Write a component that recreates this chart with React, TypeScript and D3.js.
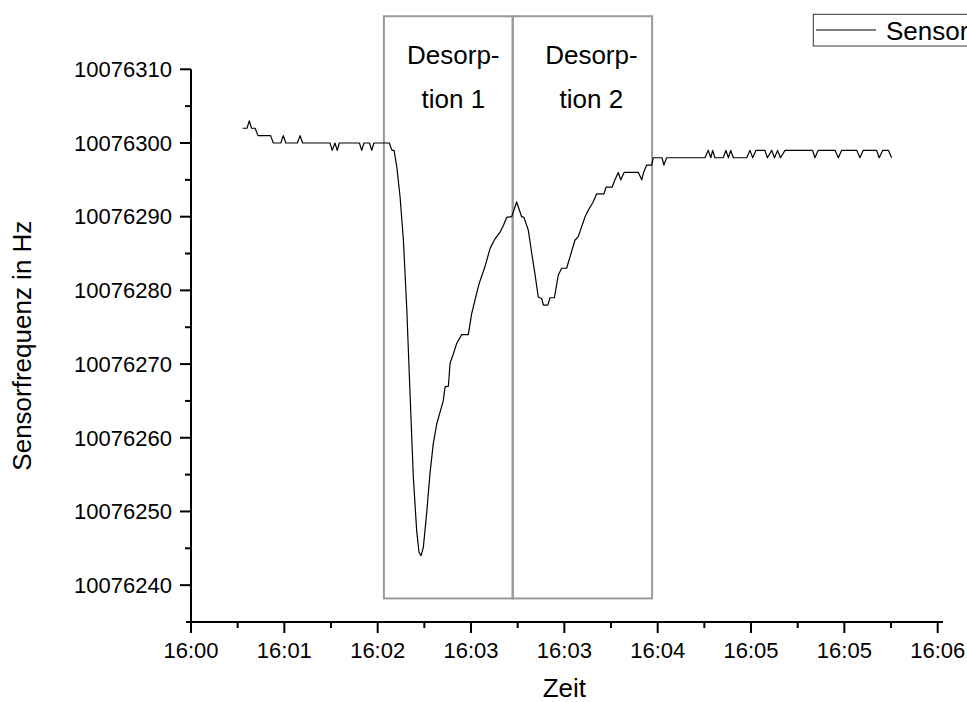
import React from "react";
import * as d3 from "d3";

// time in seconds after the first tick, frequency in Hz
const timeSec = [
  24.9, 27.0, 28.1, 29.2, 30.9, 32.3, 38.4, 39.7, 43.3, 44.5, 45.7, 51.3, 52.6, 53.8,
  67.0, 68.1, 69.4, 70.5, 71.5, 81.2, 82.3, 83.4, 86.1, 87.1, 88.2, 95.6, 96.9, 97.9,
  99.2, 100.8, 102.4, 104.0, 105.6, 107.2, 108.8, 109.9, 110.9, 112.0, 113.6, 115.2,
  116.8, 118.5, 121.6, 122.5, 124.1, 124.9, 126.5, 128.1, 130.5, 133.7, 135.3, 137.7,
  139.0, 141.7, 144.2, 146.6, 149.0, 150.6, 152.2, 154.6, 157.0, 159.4, 160.5, 162.6,
  164.3, 165.9, 167.4, 169.1, 169.9, 172.0, 173.1, 175.2, 177.1, 178.7, 181.1, 185.1,
  186.7, 190.0, 191.6, 193.7, 195.6, 199.1, 200.1, 203.0, 204.4, 206.0, 207.2, 208.8,
  215.7, 217.3, 218.2, 219.7, 222.1, 222.9, 227.1, 228.0, 229.3, 247.8, 249.4, 250.6,
  251.5, 252.6, 256.6, 257.9, 259.1, 260.2, 261.5, 267.9, 269.5, 270.8, 272.4, 276.7,
  277.9, 280.0, 281.3, 282.8, 284.2, 286.4, 299.7, 300.8, 302.4, 310.5, 312.1, 313.7,
  321.0, 322.5, 324.1, 330.6, 331.8, 333.5, 336.2, 337.8,
];
const freqHz = [
  10076302, 10076302, 10076303, 10076302, 10076302, 10076301, 10076301, 10076300, 10076300, 10076301, 10076300, 10076300, 10076301, 10076300,
  10076300, 10076299, 10076300, 10076299, 10076300, 10076300, 10076299, 10076300, 10076300, 10076299, 10076300, 10076300, 10076299, 10076299,
  10076296.8, 10076292.7, 10076286.8, 10076277.7, 10076266.0, 10076254.6, 10076247.4, 10076244.5, 10076244.0, 10076245.1, 10076249.7, 10076255.1,
  10076259.2, 10076261.9, 10076265.0, 10076266.9, 10076267.0, 10076270.1, 10076271.4, 10076272.8, 10076274.0, 10076274.0, 10076276.8, 10076279.6,
  10076281.0, 10076283.2, 10076285.7, 10076287.0, 10076287.9, 10076288.8, 10076289.9, 10076290.0, 10076292.0, 10076290.0, 10076289.9, 10076288.2,
  10076285.0, 10076282.1, 10076279.1, 10076278.9, 10076278.0, 10076278.0, 10076279.0, 10076279.0, 10076282.1, 10076283.0, 10076283.0, 10076286.8,
  10076287.3, 10076290.0, 10076290.9, 10076291.9, 10076293.1, 10076293.1, 10076294.0, 10076294.0, 10076295, 10076296, 10076295, 10076296,
  10076296, 10076295, 10076296, 10076297, 10076297, 10076298, 10076298, 10076297, 10076298, 10076298, 10076299, 10076298,
  10076299, 10076298, 10076298, 10076299, 10076298, 10076299, 10076298, 10076298, 10076299, 10076298, 10076299, 10076299,
  10076298, 10076299, 10076298, 10076299, 10076298, 10076299, 10076299, 10076298, 10076299, 10076299, 10076298, 10076299,
  10076299, 10076298, 10076299, 10076299, 10076298, 10076299, 10076299, 10076298,
];

const xTickValues = [0, 45, 90, 135, 180, 225, 270, 315, 360];
const xTickLabels = ["16:00", "16:01", "16:02", "16:03", "16:03", "16:04", "16:05", "16:05", "16:06"];
const yTickValues = [10076240, 10076250, 10076260, 10076270, 10076280, 10076290, 10076300, 10076310];

// annotation regions (time start, time end) and their vertical extent
const regionStart = [93.0, 155.1];
const regionEnd = [155.1, 222.3];
const regionLabel1 = ["Desorp-", "Desorp-"];
const regionLabel2 = ["tion 1", "tion 2"];
const regionFreqRange = [10076238.2, 10076317.2];

const legendLabel = "Sensor";

const FONT = "'Liberation Sans', Arial, Helvetica, sans-serif";

export default function App() {
  const W = 967, H = 702;
  const x = d3.scaleLinear().domain([0, 360]).range([191, 937.7]);
  const y = d3.scaleLinear().domain([10076235, 10076310]).range([622, 69.3]);

  const pts = timeSec.map((t, i) => [t, freqHz[i]] as [number, number]);
  const line = d3.line<[number, number]>().x(d => x(d[0])).y(d => y(d[1]));

  const xMinor = xTickValues.slice(0, -1).map((v, i) => (v + xTickValues[i + 1]) / 2);
  const yMinor = yTickValues.slice(0, -1).map((v, i) => (v + yTickValues[i + 1]) / 2);

  const x0 = x.range()[0];
  const y0 = y.range()[0];
  const fmt = d3.format("d");

  return (
    <svg width={W} height={H} style={{ position: "absolute", left: 0, top: 0, background: "#fff" }} fontFamily={FONT}>
      <rect x={0} y={0} width={W} height={H} fill="#fff" />
      {/* annotation boxes */}
      {regionStart.map((s, i) => (
        <rect key={"r" + i} x={x(s)} y={y(regionFreqRange[1])} width={x(regionEnd[i]) - x(s)}
          height={y(regionFreqRange[0]) - y(regionFreqRange[1])} fill="none" stroke="#9a9a9a" strokeWidth={2} />
      ))}
      {regionStart.map((s, i) => {
        const cx = (x(s) + x(regionEnd[i])) / 2 + (i === 0 ? 5 : 9);
        return (
          <g key={"t" + i} fontSize={26} textAnchor="middle" fill="#000">
            <text x={cx} y={63.5}>{regionLabel1[i]}</text>
            <text x={cx} y={108.3}>{regionLabel2[i]}</text>
          </g>
        );
      })}

      {/* data line */}
      <path d={line(pts) || ""} fill="none" stroke="#000" strokeWidth={1.2} strokeLinejoin="round" />

      {/* axes */}
      <line x1={x0 - 5} x2={943} y1={y0} y2={y0} stroke="#000" strokeWidth={2} />
      <line x1={x0} x2={x0} y1={y(10076310)} y2={y0 + 5} stroke="#000" strokeWidth={2} />
      {xTickValues.map((v, i) => (
        <g key={"xt" + i}>
          <line x1={x(v)} x2={x(v)} y1={y0} y2={y0 + 11} stroke="#000" strokeWidth={2} />
          <text x={x(v)} y={657.5} fontSize={22} textAnchor="middle">{xTickLabels[i]}</text>
        </g>
      ))}
      {xMinor.map((v, i) => (
        <line key={"xm" + i} x1={x(v)} x2={x(v)} y1={y0} y2={y0 + 6} stroke="#000" strokeWidth={2} />
      ))}
      {yTickValues.map((v, i) => (
        <g key={"yt" + i}>
          <line x1={x0 - 11} x2={x0} y1={y(v)} y2={y(v)} stroke="#000" strokeWidth={2} />
          <text x={x0 - 19} y={y(v) + 7.8} fontSize={22} textAnchor="end">{fmt(v)}</text>
        </g>
      ))}
      {yMinor.map((v, i) => (
        <line key={"ym" + i} x1={x0 - 6} x2={x0} y1={y(v)} y2={y(v)} stroke="#000" strokeWidth={2} />
      ))}

      {/* axis titles */}
      <text x={(x.range()[0] + x.range()[1]) / 2} y={697} fontSize={26} textAnchor="middle">Zeit</text>
      <text transform={`translate(31, ${(y.range()[0] + y.range()[1]) / 2}) rotate(-90)`} fontSize={26} textAnchor="middle">Sensorfrequenz in Hz</text>

      {/* legend */}
      <rect x={813.3} y={14.3} width={200} height={31.7} fill="#fff" stroke="#333" strokeWidth={1} />
      <line x1={816} x2={876} y1={30} y2={30} stroke="#000" strokeWidth={1.2} />
      <text x={886} y={39.5} fontSize={26}>{legendLabel}</text>
    </svg>
  );
}
